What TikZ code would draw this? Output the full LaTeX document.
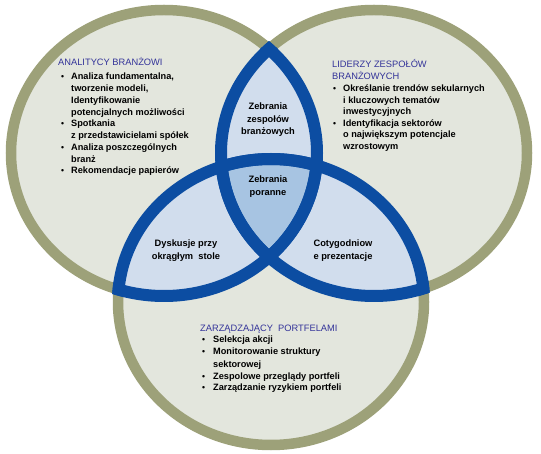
\documentclass[tikz,border=0pt]{standalone}
\usepackage{fontspec}
\setmainfont{Liberation Sans}
\begin{document}
\begin{tikzpicture}[x=1pt,y=-1pt]
\definecolor{olive}{RGB}{157,161,121}
\definecolor{pale}{RGB}{227,230,221}
\definecolor{lensblue}{RGB}{209,221,237}
\definecolor{triblue}{RGB}{167,196,226}
\definecolor{ringblue}{RGB}{12,77,162}
\definecolor{headblue}{RGB}{51,51,153}
\tikzset{
  ringol/.style={draw=olive,line width=10.5pt},
  ringbl/.style={draw=ringblue,line width=12pt},
  bodytxt/.style={inner sep=0pt,anchor=base west,font=\fontsize{9.2}{11}\selectfont\bfseries},
  bul/.style={inner sep=0pt,anchor=base west,font=\fontsize{8.5}{10}\selectfont\bfseries},
  headtxt/.style={inner sep=0pt,anchor=base west,text=headblue,font=\fontsize{9.3}{11}\selectfont},
  lenstxt/.style={inner sep=0pt,anchor=base,font=\fontsize{9.3}{11}\selectfont\bfseries},
}
\def\rx{153pt}\def\ry{143pt}
\def\rxe{159pt}\def\rye{149pt}
\coordinate (cl) at (164,153);
\coordinate (cr) at (374,153);
\coordinate (cb) at (271,302);
\useasboundingbox (0,0) rectangle (541,454);
\fill[white] (0,0) rectangle (541,454);
% fills
\foreach \c in {cl,cr,cb}{\fill[pale] (\c) ellipse [x radius=\rx, y radius=\ry];}
\begin{scope}
  \clip (cl) ellipse [x radius=\rx, y radius=\ry];
  \fill[lensblue] (cr) ellipse [x radius=\rx, y radius=\ry];
  \fill[lensblue] (cb) ellipse [x radius=\rx, y radius=\ry];
\end{scope}
\begin{scope}
  \clip (cr) ellipse [x radius=\rx, y radius=\ry];
  \fill[lensblue] (cb) ellipse [x radius=\rx, y radius=\ry];
\end{scope}
\begin{scope}
  \clip (cl) ellipse [x radius=\rx, y radius=\ry];
  \clip (cr) ellipse [x radius=\rx, y radius=\ry];
  \fill[triblue] (cb) ellipse [x radius=\rx, y radius=\ry];
\end{scope}
% olive rings
\foreach \c in {cl,cr,cb}{\draw[ringol] (\c) ellipse [x radius=\rx, y radius=\ry];}
% blue ring parts
\foreach \a/\b in {cl/cr,cl/cb,cr/cl,cr/cb,cb/cl,cb/cr}{
  \begin{scope}
    \clip (\b) ellipse [x radius=\rxe, y radius=\rye];
    \draw[ringbl] (\a) ellipse [x radius=\rx, y radius=\ry];
  \end{scope}
}
% left block
\node[headtxt] (lh) at (58,66) {ANALITYCY BRANŻOWI};
\node[bul] (lb1) at (61,80) {•};
\node[bodytxt] (l1) at (71,80) {Analiza fundamentalna,};
\node[bodytxt] (l2) at (71,91.75) {tworzenie modeli,};
\node[bodytxt] (l3) at (71,103.5) {Identyfikowanie};
\node[bodytxt] (l4) at (71,115.25) {potencjalnych możliwości};
\node[bul] (lb2) at (61,127) {•};
\node[bodytxt] (l5) at (71,127) {Spotkania};
\node[bodytxt] (l6) at (71,138.75) {z przedstawicielami spółek};
\node[bul] (lb3) at (61,150.5) {•};
\node[bodytxt] (l7) at (71,150.5) {Analiza poszczególnych};
\node[bodytxt] (l8) at (71,162.25) {branż};
\node[bul] (lb4) at (61,174) {•};
\node[bodytxt] (l9) at (71,174) {Rekomendacje papierów};
% right block
\node[headtxt] (rh1) at (332,68) {LIDERZY ZESPOŁÓW};
\node[headtxt] (rh2) at (332,79.5) {BRANŻOWYCH};
\node[bul] (rb1) at (333,92) {•};
\node[bodytxt] (r1) at (343,92) {Określanie trendów sekularnych};
\node[bodytxt] (r2) at (343,103.5) {i kluczowych tematów};
\node[bodytxt] (r3) at (343,115) {inwestycyjnych};
\node[bul] (rb2) at (333,126.5) {•};
\node[bodytxt] (r4) at (343,126.5) {Identyfikacja sektorów};
\node[bodytxt] (r5) at (343,138) {o największym potencjale};
\node[bodytxt] (r6) at (343,149.5) {wzrostowym};
% bottom block
\node[headtxt] (bh) at (200,332) {ZARZĄDZAJĄCY\ \ PORTFELAMI};
\node[bul] (bb1) at (202,343) {•};
\node[bodytxt] (b1) at (213,343) {Selekcja akcji};
\node[bul] (bb2) at (202,355) {•};
\node[bodytxt] (b2) at (213,355) {Monitorowanie struktury};
\node[bodytxt] (b3) at (213,367) {sektorowej};
\node[bul] (bb3) at (202,379) {•};
\node[bodytxt] (b4) at (213,379) {Zespolowe przeglądy portfeli};
\node[bul] (bb4) at (202,391) {•};
\node[bodytxt] (b5) at (213,391) {Zarządzanie ryzykiem\ portfeli};
% lens texts
\node[lenstxt] (t1) at (268,110) {Zebrania};
\node[lenstxt] (t2) at (268,122.5) {zespołów};
\node[lenstxt] (t3) at (268,134.5) {branżowych};
\node[lenstxt] (m1) at (268,183) {Zebrania};
\node[lenstxt] (m2) at (268,196) {poranne};
\node[lenstxt] (d1) at (186,247) {Dyskusje przy};
\node[lenstxt] (d2) at (186,260) {okrągłym\ \ stole};
\node[lenstxt] (c1) at (343,247) {Cotygodniow};
\node[lenstxt] (c2) at (343,260) {e prezentacje};
\end{tikzpicture}
\end{document}
